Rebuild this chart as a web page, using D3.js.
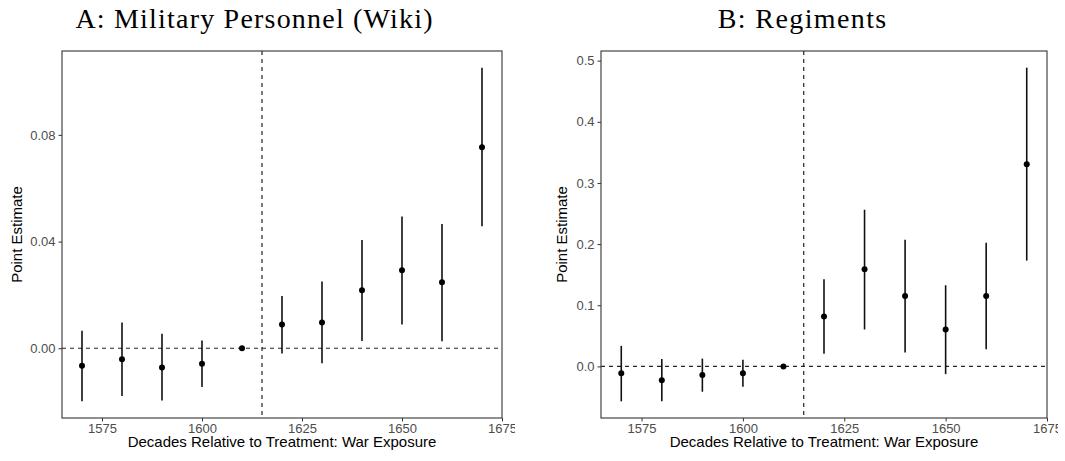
<!DOCTYPE html>
<html lang="en">
  <head>
    <meta charset="UTF-8" />
    <title>Event study: war exposure</title>
    <script src="https://d3js.org/d3.v7.min.js"></script>
    <style>
      body { margin: 0; background: #fff; }
      .tick line { stroke: #333; }
      .domain { display: none; }
      .title { font-family: "Liberation Serif", "DejaVu Serif", serif; font-size: 28px; fill: #000; }
      .axis-title { font-family: "Liberation Sans", Arial, sans-serif; font-size: 15px; fill: #000; }
    </style>
  </head>
  <body>
    <svg id="chart" width="1065" height="461"></svg>
    <script>
      const years = [1570, 1580, 1590, 1600, 1610, 1620, 1630, 1640, 1650, 1660, 1670];
      const xTicks = [1575, 1600, 1625, 1650, 1675];

      // panel A: military personnel (wiki)
      const wikiEst = [-0.0066, -0.0041, -0.0072, -0.0058, 0, 0.0089, 0.0097, 0.0217, 0.0292, 0.0247, 0.0754];
      const wikiLo = [-0.0199, -0.0179, -0.0196, -0.0145, null, -0.002, -0.0056, 0.0027, 0.0089, 0.0026, 0.0457];
      const wikiHi = [0.0066, 0.0097, 0.0054, 0.0029, null, 0.0196, 0.025, 0.0406, 0.0494, 0.0466, 0.1052];
      const wikiTicks = [0, 0.04, 0.08];

      // panel B: regiments
      const regEst = [-0.0114, -0.0226, -0.0142, -0.0112, 0, 0.0816, 0.1588, 0.1152, 0.0604, 0.1152, 0.3307];
      const regLo = [-0.0571, -0.0571, -0.0414, -0.0333, null, 0.0206, 0.0604, 0.0228, -0.0126, 0.0282, 0.173];
      const regHi = [0.0336, 0.0122, 0.0128, 0.011, null, 0.1425, 0.2562, 0.2073, 0.1327, 0.2024, 0.4885];
      const regTicks = [0, 0.1, 0.2, 0.3, 0.4, 0.5];

      const treatYear = 1615;
      const svg = d3.select("#chart");

      function styleTicks(sel) {
        sel.selectAll(".tick text")
          .attr("fill", "#4d4d4d")
          .style("font-family", "'Liberation Sans', Arial, sans-serif")
          .style("font-size", "13px");
      }

      function drawPanel(opt) {
        const g = svg.append("g");
        const clipId = "clip" + opt.id;
        svg.append("defs").append("clipPath").attr("id", clipId)
          .append("rect").attr("x", opt.clipX0).attr("y", 0)
          .attr("width", opt.clipX1 - opt.clipX0).attr("height", 461);
        g.attr("clip-path", `url(#${clipId})`);

        const rows = years.map((y, i) => ({ year: y, est: opt.est[i], lo: opt.lo[i], hi: opt.hi[i] }));

        const xr = d3.extent(years);
        const xPad = (xr[1] - xr[0]) * 0.05;
        const x = d3.scaleLinear().domain([xr[0] - xPad, xr[1] + xPad]).range([opt.left, opt.right]);

        const allY = opt.lo.concat(opt.hi, opt.est).filter(v => v != null);
        const yr = d3.extent(allY);
        const yPad = (yr[1] - yr[0]) * 0.05;
        const y = d3.scaleLinear().domain([yr[0] - yPad, yr[1] + yPad]).range([opt.bottom, opt.top]);

        // reference lines
        g.append("line")
          .attr("x1", opt.left).attr("x2", opt.right)
          .attr("y1", y(0)).attr("y2", y(0))
          .attr("stroke", "#222").attr("stroke-width", 1.2).attr("stroke-dasharray", "4,4");
        g.append("line")
          .attr("x1", x(treatYear)).attr("x2", x(treatYear))
          .attr("y1", opt.top).attr("y2", opt.bottom)
          .attr("stroke", "#222").attr("stroke-width", 1.2).attr("stroke-dasharray", "4,4");

        // intervals
        g.selectAll(".ci")
          .data(rows.filter(d => d.lo != null))
          .join("line")
          .attr("class", "ci")
          .attr("x1", d => x(d.year)).attr("x2", d => x(d.year))
          .attr("y1", d => y(d.lo)).attr("y2", d => y(d.hi))
          .attr("stroke", "#111").attr("stroke-width", 1.6);

        g.selectAll(".pt")
          .data(rows)
          .join("circle")
          .attr("class", "pt")
          .attr("cx", d => x(d.year)).attr("cy", d => y(d.est))
          .attr("r", 3).attr("fill", "#000");

        // panel border
        g.append("rect")
          .attr("x", opt.left).attr("y", opt.top)
          .attr("width", opt.right - opt.left).attr("height", opt.bottom - opt.top)
          .attr("fill", "none").attr("stroke", "#333").attr("stroke-width", 1.1);

        g.append("g")
          .attr("transform", `translate(0,${opt.bottom})`)
          .call(d3.axisBottom(x).tickValues(xTicks).tickFormat(d3.format("d")).tickSizeOuter(0).tickSize(3.5).tickPadding(2))
          .call(styleTicks);

        g.append("g")
          .attr("transform", `translate(${opt.left},0)`)
          .call(d3.axisLeft(y).tickValues(opt.ticks).tickFormat(d3.format(opt.fmt)).tickSizeOuter(0).tickSize(3.5).tickPadding(3))
          .call(styleTicks);

        g.append("text")
          .attr("class", "axis-title")
          .attr("x", (opt.left + opt.right) / 2).attr("y", 447)
          .attr("text-anchor", "middle")
          .text("Decades Relative to Treatment: War Exposure");

        g.append("text")
          .attr("class", "axis-title")
          .attr("transform", `translate(${opt.yTitleX},${(opt.top + opt.bottom) / 2}) rotate(-90)`)
          .attr("text-anchor", "middle")
          .text("Point Estimate");

        // serif title, widened a little to approach the reference face
        const t = g.append("text")
          .attr("class", "title")
          .attr("x", opt.titleX).attr("y", 28)
          .attr("text-anchor", "middle")
          .text(opt.title);
        const w = t.node().getComputedTextLength();
        t.attr("textLength", w * 1.1).attr("lengthAdjust", "spacing");
      }

      drawPanel({
        id: "A", title: "A: Military Personnel (Wiki)", titleX: 254,
        est: wikiEst, lo: wikiLo, hi: wikiHi, ticks: wikiTicks, fmt: ".2f",
        left: 62, right: 502, top: 51, bottom: 418, yTitleX: 22,
        clipX0: 0, clipX1: 515
      });

      drawPanel({
        id: "B", title: "B: Regiments", titleX: 802,
        est: regEst, lo: regLo, hi: regHi, ticks: regTicks, fmt: ".1f",
        left: 601, right: 1047, top: 51, bottom: 418, yTitleX: 567,
        clipX0: 530, clipX1: 1058
      });
    </script>
  </body>
</html>
